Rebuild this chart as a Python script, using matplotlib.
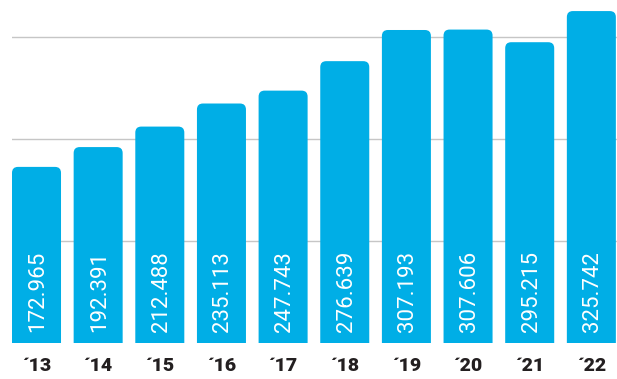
import matplotlib
matplotlib.use("Agg")
import matplotlib.pyplot as plt
from matplotlib.patches import FancyBboxPatch

years = ["´13", "´14", "´15", "´16", "´17", "´18", "´19", "´20", "´21", "´22"]
values = [172.965, 192.391, 212.488, 235.113, 247.743, 276.639, 307.193, 307.606, 295.215, 325.742]
labels = ["172.965", "192.391", "212.488", "235.113", "247.743", "276.639", "307.193", "307.606", "295.215", "325.742"]
grid_levels = [100, 200, 300]

W, H = 617, 379
fig = plt.figure(figsize=(W / 100, H / 100), dpi=100)
ax_left = 12 / W
ax_bottom = 1 - 343.3 / H
ax = fig.add_axes([ax_left, ax_bottom, 1 - ax_left, 1 - ax_bottom])

bar_w = 0.795
x_lo, x_hi = -bar_w / 2, 9.416
y_lo, y_hi = 0, 336.6
ax.set_xlim(x_lo, x_hi)
ax.set_ylim(y_lo, y_hi)

ax_w_px = (1 - ax_left) * W
ax_h_px = (1 - ax_bottom) * H
px_per_x = ax_w_px / (x_hi - x_lo)
px_per_y = ax_h_px / (y_hi - y_lo)
aspect = px_per_x / px_per_y
r = 6 / px_per_x

color = "#00AEE6"
for y in grid_levels:
    ax.axhline(y, color="#c6c6c6", lw=1.0, zorder=0)

for i, v in enumerate(values):
    p = FancyBboxPatch((i - bar_w / 2, -30), bar_w, v + 30,
                       boxstyle=f"round,pad=0,rounding_size={r}",
                       mutation_aspect=aspect, fc=color, ec="none", zorder=2)
    ax.add_patch(p)
    ax.text(i + 1.5 / px_per_x, 11 / px_per_y, labels[i], rotation=90, ha="center", va="bottom",
            color="white", fontsize=16, family="Roboto", zorder=3)

ax.set_xticks(range(len(years)))
ax.set_xticklabels(years, fontsize=14, fontweight="black", family="Roboto", color="#231f20")
ax.tick_params(axis="x", length=0, pad=10)
ax.set_yticks([])
for s in ax.spines.values():
    s.set_visible(False)

fig.savefig("out.png", dpi=100)
